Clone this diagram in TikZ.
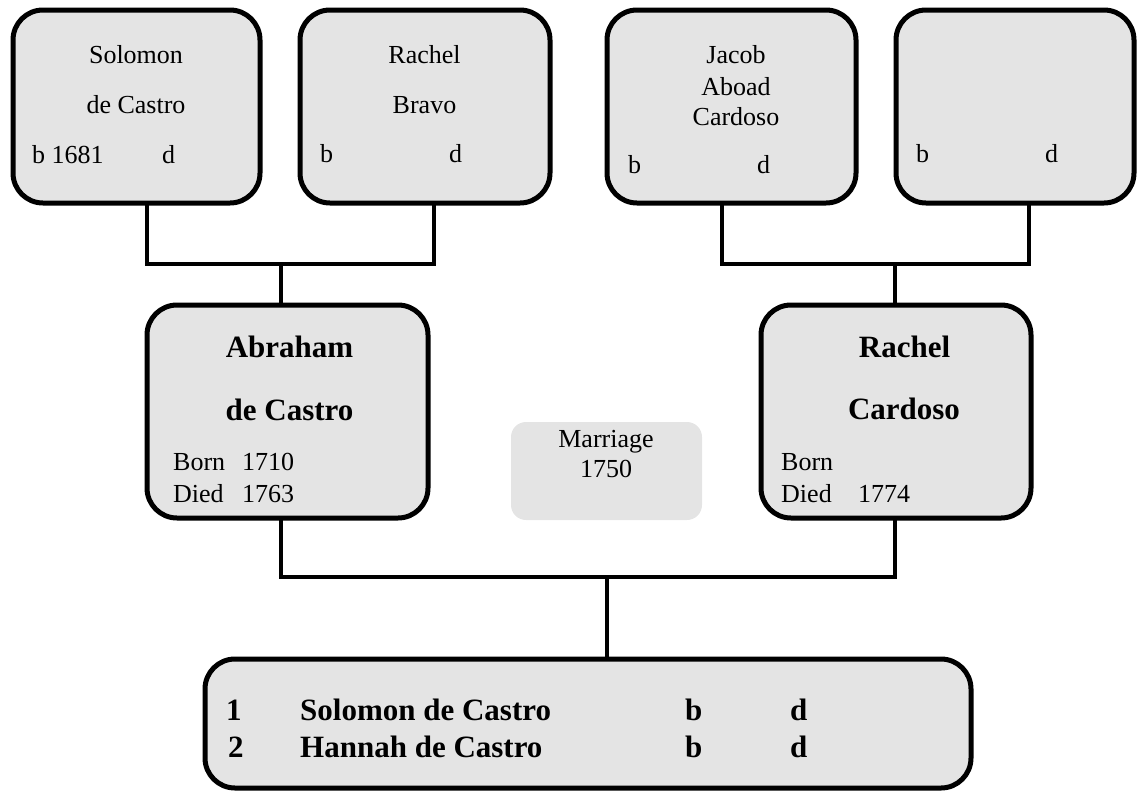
\documentclass[tikz,border=0pt]{standalone}
\usepackage{fontspec}
\setmainfont{LiberationSerif}[Extension=.ttf, UprightFont=*-Regular, BoldFont=*-Bold, ItalicFont=*-Italic, BoldItalicFont=*-BoldItalic]
\definecolor{boxfill}{RGB}{228,228,228}
\begin{document}
\begin{tikzpicture}[x=1pt,y=-1pt,
  box/.style={draw=black, line width=5pt, fill=boxfill, rounded corners=30pt, inner sep=0pt, outer sep=0pt},
  softbox/.style={fill=boxfill, rounded corners=15pt, inner sep=0pt, outer sep=0pt},
  conn/.style={line width=4pt, line join=miter},
  txt/.style={inner sep=0pt, anchor=base, font=\fontsize{26}{31}\selectfont},
  txtl/.style={txt, anchor=base west},
  btxt/.style={inner sep=0pt, anchor=base, font=\fontsize{31}{37}\selectfont\bfseries},
  btxtl/.style={btxt, anchor=base west},
]
\useasboundingbox (0,0) rectangle (1138,793);

% boxes
\node[box, minimum width=247pt, minimum height=193pt] (b1) at (136.5,106.5) {};
\node[box, minimum width=250pt, minimum height=193pt] (b2) at (425,106.5) {};
\node[box, minimum width=249pt, minimum height=193pt] (b3) at (731.5,106.5) {};
\node[box, minimum width=238pt, minimum height=193pt] (b4) at (1015,106.5) {};
\node[box, minimum width=281pt, minimum height=213pt] (a) at (287.5,411.5) {};
\node[box, minimum width=270pt, minimum height=213pt] (r) at (896,411.5) {};
\node[softbox, minimum width=191pt, minimum height=98pt] (m) at (606.5,471) {};
\node[box, minimum width=766pt, minimum height=129pt] (c) at (588,723.5) {};

% connectors
\coordinate (j1) at (147,264);
\coordinate (j2) at (434,264);
\coordinate (j3) at (281,264);
\coordinate (j4) at (722,264);
\coordinate (j5) at (1029,264);
\coordinate (j6) at (895,264);
\coordinate (j7) at (281,577);
\coordinate (j8) at (895,577);
\coordinate (j9) at (607,577);
\draw[conn] (b1.south -| j1) -- (j1) -- (j2) -- (b2.south -| j2);
\draw[conn] (j3) -- (a.north -| j3);
\draw[conn] (b3.south -| j4) -- (j4) -- (j5) -- (b4.south -| j5);
\draw[conn] (j6) -- (r.north -| j6);
\draw[conn] (a.south -| j7) -- (j7) -- (j8) -- (r.south -| j8);
\draw[conn] (j9) -- (c.north -| j9);

% texts box 1
\node[txt] (t1a) at (136,63) {Solomon};
\node[txt] (t1b) at (136,113) {de Castro};
\node[txtl] (t1c) at (32,163) {b 1681};
\node[txtl] (t1d) at (162,163) {d};
% box 2
\node[txt] (t2a) at (424.5,63) {Rachel};
\node[txt] (t2b) at (424.5,113) {Bravo};
\node[txtl] (t2c) at (320,162) {b};
\node[txtl] (t2d) at (449,162) {d};
% box 3
\node[txt] (t3a) at (736,63) {Jacob};
\node[txt] (t3b) at (736,95) {Aboad};
\node[txt] (t3c) at (736,125) {Cardoso};
\node[txtl] (t3d) at (628,173) {b};
\node[txtl] (t3e) at (757,173) {d};
% box 4
\node[txtl] (t4a) at (916,162) {b};
\node[txtl] (t4b) at (1045,162) {d};
% Abraham
\node[btxt] (ta1) at (289.5,357) {Abraham};
\node[btxt] (ta2) at (289.5,420) {de Castro};
\node[txtl] (ta3) at (173,470) {Born};
\node[txtl] (ta4) at (242,470) {1710};
\node[txtl] (ta5) at (173,502) {Died};
\node[txtl] (ta6) at (242,502) {1763};
% Rachel Cardoso
\node[btxt] (tr1) at (904.5,357) {Rachel};
\node[btxt] (tr2) at (904,419) {Cardoso};
\node[txtl] (tr3) at (781,470) {Born};
\node[txtl] (tr4) at (781,502) {Died};
\node[txtl] (tr5) at (858,502) {1774};
% Marriage
\node[txt] (tm1) at (606,447) {Marriage};
\node[txt] (tm2) at (606,477) {1750};
% children
\node[btxtl] (tc1) at (226,720) {1};
\node[btxtl] (tc2) at (300,720) {Solomon de Castro};
\node[btxtl] (tc3) at (685,720) {b};
\node[btxtl] (tc4) at (790,720) {d};
\node[btxtl] (tc5) at (228,757) {2};
\node[btxtl] (tc6) at (300,757) {Hannah de Castro};
\node[btxtl] (tc7) at (685,757) {b};
\node[btxtl] (tc8) at (790,757) {d};
\end{tikzpicture}
\end{document}
